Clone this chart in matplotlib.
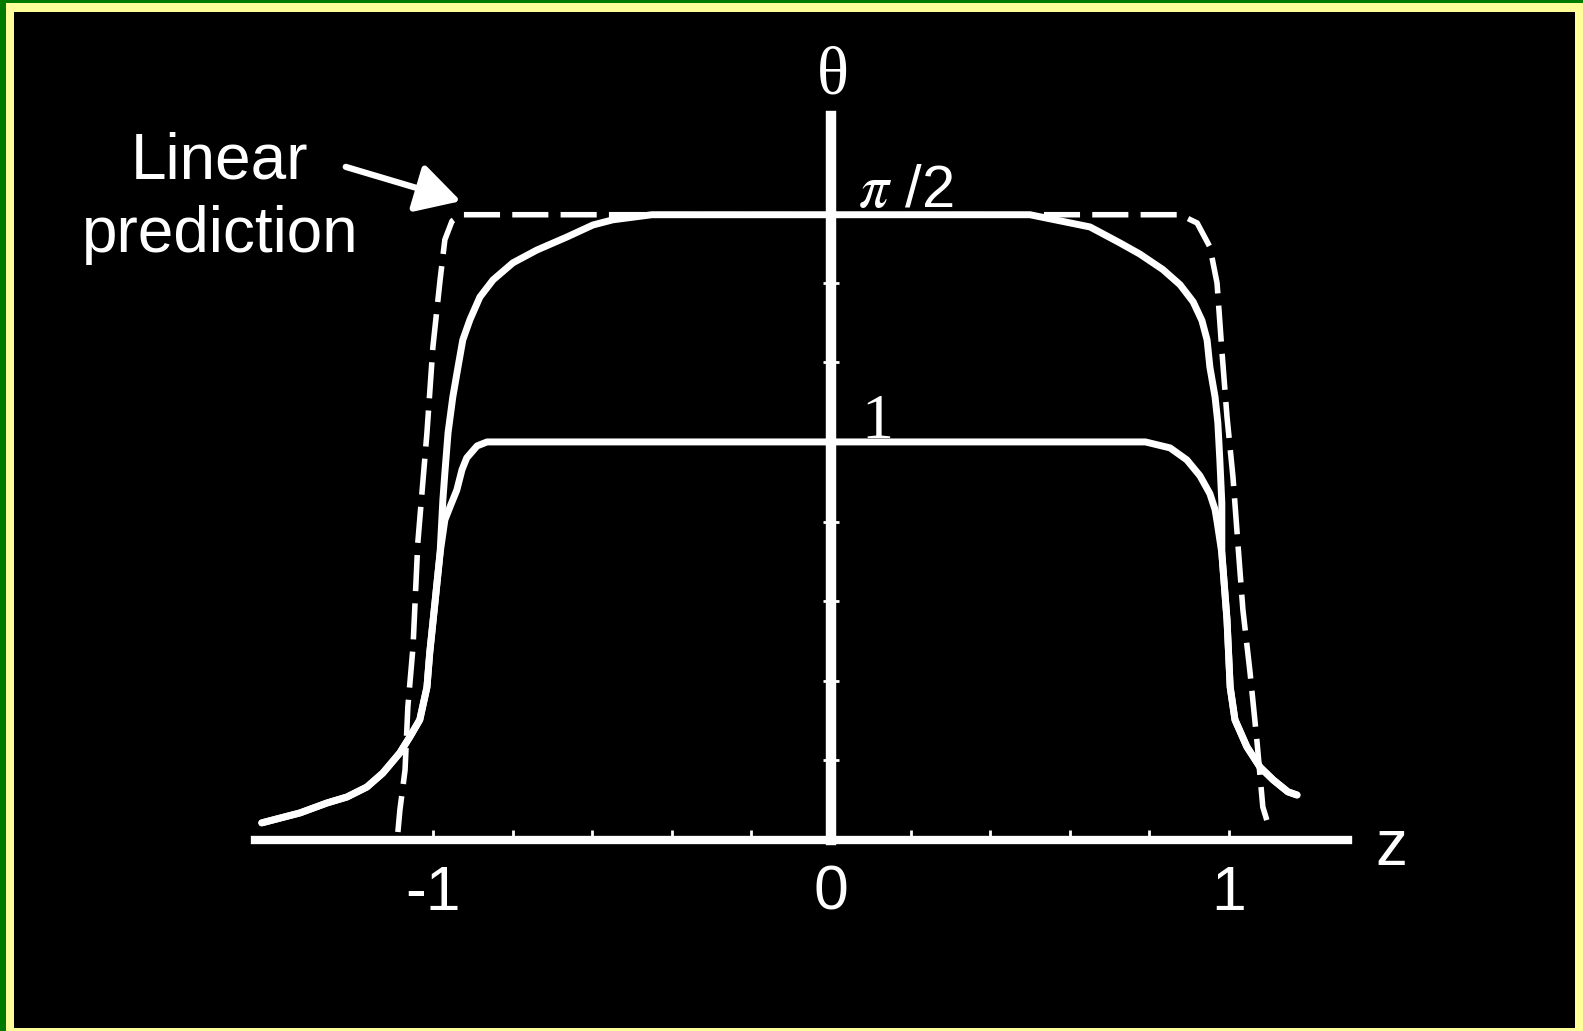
import numpy as np
import matplotlib.pyplot as plt
from matplotlib.patches import Rectangle

plt.rcParams["mathtext.fontset"] = "stix"

PI2 = np.pi / 2

# ---------- Profile data ----------
# shared far-field tails (both solid curves run together here)
z_tail_left = [-1.430, -1.384, -1.334, -1.266, -1.216, -1.166, -1.126, -1.083,
               -1.058, -1.033, -1.015, -1.008, -0.995, -0.982]
th_tail_left = [0.043, 0.055, 0.068, 0.093, 0.108, 0.133, 0.168, 0.219,
                0.259, 0.302, 0.384, 0.470, 0.595, 0.721]
z_tail_right = [0.982, 0.995, 1.003, 1.015, 1.045, 1.078, 1.111, 1.148, 1.171]
th_tail_right = [0.721, 0.553, 0.384, 0.302, 0.234, 0.183, 0.151, 0.121, 0.113]

# outer solution, plateau at pi/2
z_outer_mid = [-0.975, -0.970, -0.962, -0.950, -0.937, -0.925, -0.907, -0.882,
               -0.849, -0.799, -0.739, -0.663, -0.598, -0.548, -0.45, 0.50,
               0.651, 0.726, 0.776, 0.834, 0.877, 0.910, 0.932, 0.945, 0.952,
               0.965, 0.972, 0.977, 0.982]
th_outer_mid = [0.854, 0.922, 1.023, 1.113, 1.188, 1.256, 1.307, 1.364,
                1.407, 1.450, 1.482, 1.515, 1.545, 1.558, PI2, PI2,
                1.540, 1.500, 1.472, 1.433, 1.395, 1.352, 1.305, 1.256, 1.188,
                1.113, 1.048, 0.955, 0.847]

# inner solution, plateau at 1
z_inner_mid = [-0.970, -0.957, -0.940, -0.927, -0.915, -0.889, -0.864,
               0.790, 0.852, 0.894, 0.927, 0.952, 0.965, 0.970]
th_inner_mid = [0.804, 0.837, 0.879, 0.930, 0.960, 0.990, 1.0,
                1.0, 0.985, 0.955, 0.915, 0.870, 0.830, 0.800]

# linear prediction (dashed)
z_lin = [-1.088, -1.083, -1.070, -1.063, -1.050, -1.038, -1.015, -1.000,
         -0.982, -0.970, -0.952, -0.930, 0.877, 0.920, 0.952, 0.970, 0.982,
         0.995, 1.010, 1.023, 1.035, 1.053, 1.070, 1.085, 1.095]
th_lin = [0.020, 0.075, 0.176, 0.334, 0.485, 0.746, 1.023, 1.239,
          1.407, 1.508, 1.555, PI2, PI2, 1.550, 1.490, 1.399, 1.231,
          1.063, 0.912, 0.736, 0.578, 0.420, 0.251, 0.083, 0.050]

z_outer = z_tail_left + z_outer_mid + z_tail_right
th_outer = th_tail_left + th_outer_mid + th_tail_right
z_inner = z_tail_left + z_inner_mid + z_tail_right
th_inner = th_tail_left + th_inner_mid + th_tail_right

# ---------- Figure with framed background ----------
W, H = 1583, 1031
fig = plt.figure(figsize=(W / 100, H / 100), dpi=100)
fig.patch.set_facecolor("#007a00")
fig.add_artist(Rectangle((6 / W, 0), 1, 1 - 3 / H, transform=fig.transFigure,
                         facecolor="#ffff99", edgecolor="none", zorder=0))
fig.add_artist(Rectangle((14 / W, 3 / H), (1575 - 14) / W, (1031 - 3 - 12) / H,
                         transform=fig.transFigure, facecolor="black",
                         edgecolor="none", zorder=0))

ax = fig.add_axes([255 / W, (H - 870) / H, (1348 - 255) / W, 770 / H])
ax.set_facecolor("none")
ax.set_xlim(-1.447, 1.299)
ax.set_ylim(-0.0754, 1.859)

# curves
ax.plot(z_outer, th_outer, color="white", lw=5, solid_joinstyle="round",
        solid_capstyle="round")
ax.plot(z_inner, th_inner, color="white", lw=5, solid_joinstyle="round",
        solid_capstyle="round")
ax.plot(z_lin, th_lin, color="white", lw=4, linestyle=(0, (6.5, 2.2)))

# axes through the origin
for side in ["top", "right"]:
    ax.spines[side].set_visible(False)
ax.spines["left"].set_position(("data", 0))
ax.spines["left"].set_bounds(0, 1.819)
ax.spines["left"].set_linewidth(7.5)
ax.spines["left"].set_color("white")
ax.spines["bottom"].set_position(("data", 0))
ax.spines["bottom"].set_linewidth(6)
ax.spines["bottom"].set_color("white")

ax.set_xticks([-1, 0, 1])
ax.set_xticklabels(["-1", "0", "1"], family="Liberation Sans", fontsize=45,
                   color="white")
ax.set_xticks([-0.8, -0.6, -0.4, -0.2, 0.2, 0.4, 0.6, 0.8], minor=True)
ax.tick_params(axis="x", which="both", direction="in", length=7, width=2,
               color="white", pad=17)
ax.set_yticks([0.2, 0.4, 0.6, 0.8, 1.2, 1.4])
ax.set_yticklabels([])
ax.tick_params(axis="y", which="both", direction="inout", length=12, width=2,
               color="white")

# labels
ax.text(0.005, 1.875, "θ", family="Liberation Serif", fontsize=48,
        color="white", ha="center", va="baseline")
ax.text(1.407, -0.063, "z", family="Liberation Sans", fontsize=46,
        color="white", ha="center", va="baseline", clip_on=False)
ax.text(0.068, PI2 + 0.02, r"$\pi$ /2", family="Liberation Sans", fontsize=43,
        color="white", ha="left", va="baseline")
ax.text(0.116, 1.01, "1", family="Liberation Serif", fontsize=46,
        color="white", ha="center", va="baseline")

ax.text(-1.535, 1.663, "Linear", family="Liberation Sans", fontsize=46,
        color="white", ha="center", va="baseline", clip_on=False)
ax.text(-1.535, 1.477, "prediction", family="Liberation Sans", fontsize=46,
        color="white", ha="center", va="baseline", clip_on=False)
ax.annotate("", xy=(-0.930, 1.605), xytext=(-1.219, 1.691),
            arrowprops=dict(arrowstyle="-|>,head_length=0.9,head_width=0.5",
                            mutation_scale=30, color="white", lw=4.5,
                            shrinkA=0, shrinkB=0))

fig.savefig("out.png", dpi=100, facecolor=fig.get_facecolor())
